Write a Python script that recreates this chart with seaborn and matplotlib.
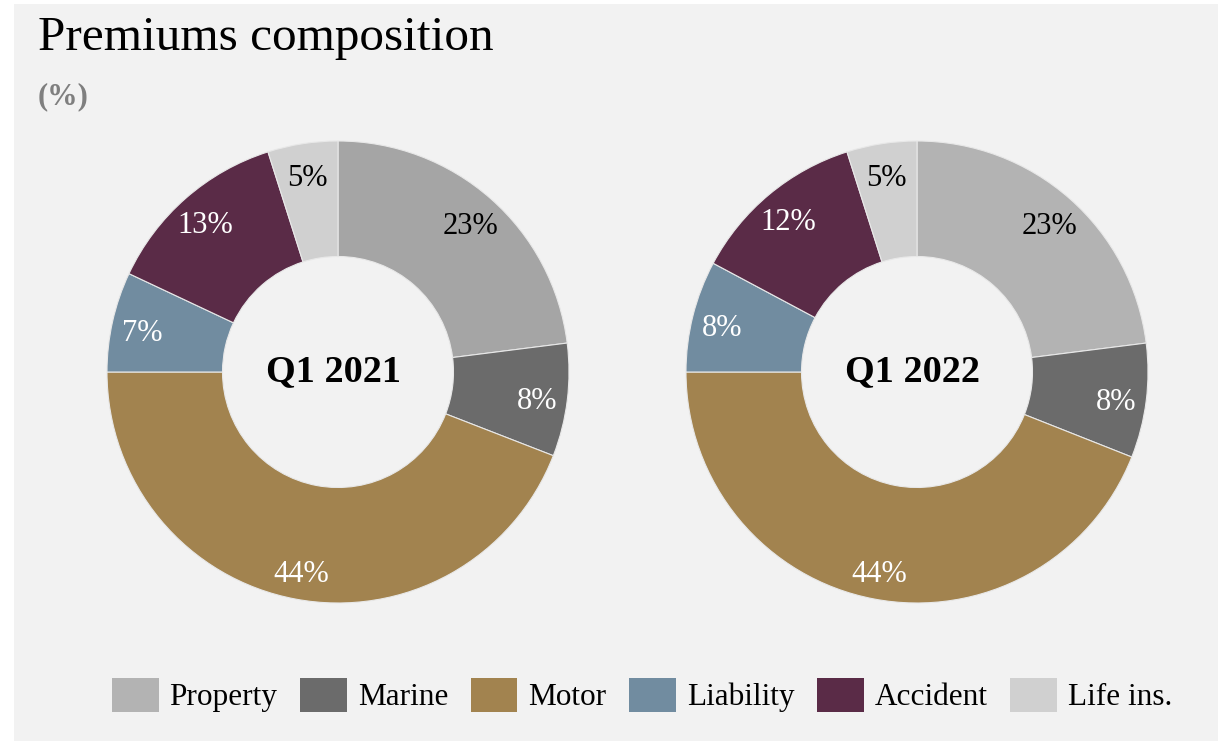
import matplotlib
matplotlib.use("Agg")
import matplotlib.pyplot as plt
import seaborn as sns
from matplotlib.patches import Patch, Rectangle

# Data (shares in %)
categories = ["Property", "Marine", "Motor", "Liability", "Accident", "Life ins."]
q1_2021 = [23.0, 7.9, 44.1, 7.0, 13.1, 4.9]
q1_2022 = [23.0, 8.0, 44.0, 7.8, 12.3, 4.9]
period_labels = ["Q1 2021", "Q1 2022"]

# Colours
colors_2021 = ["#a5a5a5", "#6b6b6b", "#a2834f", "#718ca0", "#5a2b47", "#d0d0d0"]
colors_2022 = ["#b3b3b3", "#6b6b6b", "#a2834f", "#718ca0", "#5a2b47", "#d0d0d0"]
label_colors = ["black", "white", "white", "white", "white", "black"]
bg = "#f2f2f2"

sns.set_theme(style="white")
plt.rcParams["font.family"] = ["Liberation Serif", "DejaVu Serif"]
plt.rcParams["text.color"] = "black"

W, H = 1218, 741
fig = plt.figure(figsize=(W / 100, H / 100), dpi=100, facecolor="white")
fig.patches.append(Rectangle((14 / W, 0), 1 - 14 / W, 1 - 4 / H,
                             transform=fig.transFigure, facecolor=bg,
                             edgecolor="none", zorder=-10))


def donut(cx, cy, r, values, colors, center_text):
    ax = fig.add_axes([(cx - r) / W, (H - cy - r) / H, 2 * r / W, 2 * r / H])
    ax.set_facecolor("none")
    ax.set_zorder(5)
    wedges, texts, autotexts = ax.pie(
        values, colors=colors, startangle=90, counterclock=False,
        autopct=lambda p: f"{p:.0f}%", pctdistance=0.87,
        wedgeprops=dict(width=0.5, edgecolor="#e8e8e8", linewidth=0.8),
        textprops=dict(fontsize=22))
    for t, c in zip(autotexts, label_colors):
        t.set_color(c)
        x, y = t.get_position()
        t.set_position((x, y - 0.022))
    ax.text(-0.02, 0, center_text, ha="center", va="center",
            fontsize=27.5, fontweight="bold", color="black")
    ax.set_xlim(-1, 1)
    ax.set_ylim(-1, 1)
    ax.set_aspect("equal")
    ax.axis("off")
    return wedges


donut(338, 372, 231, q1_2021, colors_2021, period_labels[0])
donut(917, 372, 231, q1_2022, colors_2022, period_labels[1])

fig.text(38 / W, 1 - 50 / H, "Premiums composition", fontsize=35.5,
         color="black", ha="left", va="baseline")
fig.text(38 / W, 1 - 104 / H, "(%)", fontsize=22, fontweight="bold",
         color="#7f7f7f", ha="left", va="baseline")

handles = [Patch(facecolor=c, edgecolor="none") for c in colors_2022]
fig.legend(handles, categories, loc="center", bbox_to_anchor=(0.527, 0.062),
           ncol=6, frameon=False, fontsize=22.5, handlelength=1.5,
           handleheight=1.3, handletextpad=0.35, columnspacing=0.72,
           labelcolor="black")

fig.savefig("out.png", dpi=100, facecolor="white")
